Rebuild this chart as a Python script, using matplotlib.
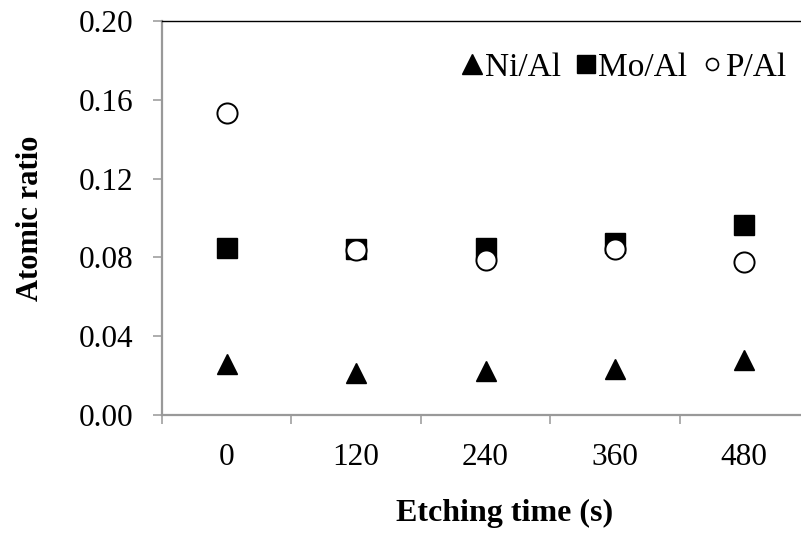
import matplotlib
matplotlib.use("Agg")
import matplotlib.pyplot as plt

categories = ["0", "120", "240", "360", "480"]
ni_al = [0.0260, 0.0215, 0.0224, 0.0235, 0.0278]
mo_al = [0.0846, 0.0841, 0.0846, 0.0871, 0.0963]
p_al = [0.1531, 0.0840, 0.0787, 0.0841, 0.0778]
yticks = [0.00, 0.04, 0.08, 0.12, 0.16, 0.20]

plt.rcParams['font.family'] = ['Liberation Serif', 'DejaVu Serif']

fig = plt.figure(figsize=(8.01, 5.35), dpi=100)
ax = fig.add_axes([162 / 801, 120 / 535, 647 / 801, 394 / 535])

x = list(range(len(categories)))
l1, = ax.plot(x, ni_al, linestyle='none', marker='^', markersize=15,
              color='black', label='Ni/Al')
l2, = ax.plot(x, mo_al, linestyle='none', marker='s', markersize=15,
              color='black', label='Mo/Al')
l3, = ax.plot(x, p_al, linestyle='none', marker='o', markersize=14.5,
              markerfacecolor='white', markeredgecolor='black',
              markeredgewidth=1.4, label='P/Al')

ax.set_xlim(-0.5, len(categories) - 0.5)
ax.set_ylim(0, 0.2)
ax.set_yticks(yticks)
ax.set_yticklabels([f"{v:.2f}" for v in yticks], fontsize=22.5)

ax.set_xticks(x)
ax.set_xticklabels(categories, fontsize=22.5)
ax.set_xticks([i - 0.5 for i in range(len(categories) + 1)], minor=True)
ax.tick_params(axis='x', which='major', length=0, pad=20)
ax.tick_params(axis='x', which='minor', length=6.5, width=1.2, color='#a0a0a0',
               direction='out')
ax.tick_params(axis='y', length=6.5, width=1.2, color='#a0a0a0', pad=14)

for side in ['left', 'bottom']:
    ax.spines[side].set_color('#999999')
    ax.spines[side].set_linewidth(1.6)
ax.spines['right'].set_visible(False)
ax.spines['top'].set_color('black')
ax.spines['top'].set_linewidth(1.0)

ax.set_ylabel('Atomic ratio', fontsize=22, fontweight='bold')
ax.yaxis.set_label_coords(-0.181, 0.5)
ax.set_xlabel('Etching time (s)', fontsize=23, fontweight='bold')
ax.xaxis.set_label_coords(0.530, -0.213)

leg = ax.legend(handles=[l1, l2, l3], ncol=3, frameon=False, fontsize=24,
                loc='upper left', bbox_to_anchor=(462 / 801, 483 / 535),
                bbox_transform=fig.transFigure,
                handlelength=0.6, handletextpad=0.08, columnspacing=0.45,
                borderaxespad=0, borderpad=0)
hs = leg.legend_handles
hs[0].set_markersize(15)
hs[1].set_markersize(12.5)
hs[2].set_markersize(8.6)
hs[2].set_markeredgewidth(1.2)

fig.savefig("out.png", dpi=100)
plt.close(fig)
